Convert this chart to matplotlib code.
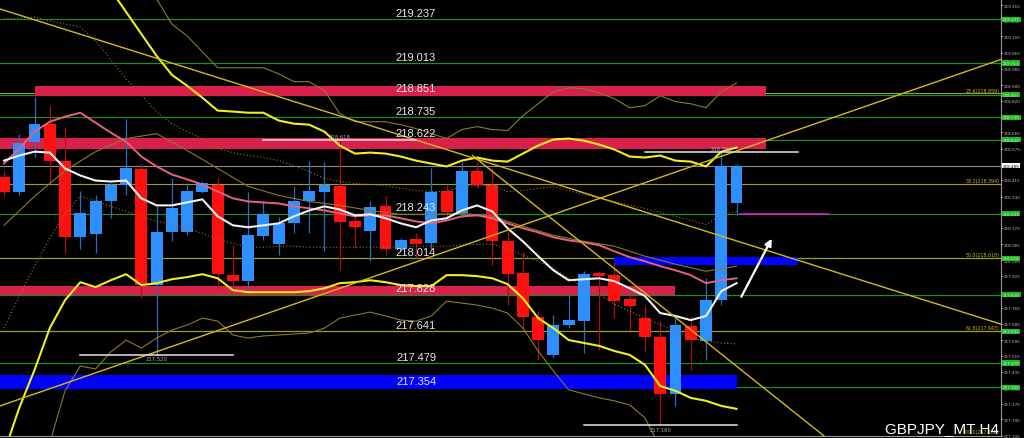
import numpy as np
import matplotlib
matplotlib.use("Agg")
import matplotlib.pyplot as plt

# ---- candles (GBPJPY H4) ----
opens = [218.428, 218.356, 218.611, 218.703, 218.514, 218.122, 218.137, 218.305, 218.387, 218.469,
         217.877, 218.147, 218.147, 218.356, 218.387, 217.928, 217.897, 218.127, 218.086, 218.193,
         218.305, 218.356, 218.382, 218.203, 218.152, 218.280, 218.060, 218.111, 218.091, 218.361,
         218.244, 218.463, 218.387, 218.101, 217.938, 217.713, 217.520, 217.673, 217.693, 217.938,
         217.928, 217.805, 217.708, 217.611, 217.321, 217.668, 217.591, 217.800, 218.295]
highs = [218.463, 218.652, 218.841, 218.795, 218.688, 218.361, 218.336, 218.397, 218.729, 218.499,
         218.280, 218.423, 218.402, 218.412, 218.423, 218.081, 218.356, 218.305, 218.224, 218.382,
         218.514, 218.509, 218.618, 218.234, 218.305, 218.331, 218.117, 218.142, 218.474, 218.387,
         218.509, 218.509, 218.474, 218.152, 218.045, 217.744, 217.724, 217.826, 217.948, 217.948,
         217.989, 217.826, 217.770, 217.693, 217.708, 217.719, 217.912, 218.556, 218.499]
lows = [218.331, 218.336, 218.535, 218.407, 218.040, 218.060, 218.040, 218.219, 218.336, 217.810,
        217.520, 218.101, 218.132, 218.346, 217.861, 217.846, 217.846, 218.106, 218.030, 218.142,
        218.142, 218.050, 217.953, 218.065, 217.999, 218.030, 218.050, 218.014, 218.055, 218.219,
        218.219, 218.372, 217.979, 217.775, 217.657, 217.494, 217.504, 217.657, 217.530, 217.545,
        217.708, 217.647, 217.540, 217.160, 217.259, 217.443, 217.494, 217.775, 218.234]
closes = [218.356, 218.606, 218.703, 218.514, 218.122, 218.244, 218.305, 218.387, 218.474, 217.877,
          218.147, 218.270, 218.361, 218.397, 217.933, 217.897, 218.132, 218.239, 218.193, 218.305,
          218.361, 218.387, 218.198, 218.173, 218.275, 218.060, 218.106, 218.086, 218.356, 218.249,
          218.463, 218.387, 218.101, 217.933, 217.713, 217.596, 217.673, 217.698, 217.933, 217.923,
          217.795, 217.770, 217.611, 217.321, 217.673, 217.596, 217.800, 218.489, 218.489]

# ---- indicator lines ----
ma_white = [218.514, 218.540, 218.560, 218.555, 218.474, 218.438, 218.412, 218.407, 218.412, 218.321,
            218.285, 218.285, 218.300, 218.316, 218.229, 218.183, 218.173, 218.183, 218.193, 218.229,
            218.259, 218.280, 218.264, 218.234, 218.239, 218.219, 218.193, 218.173, 218.208, 218.219,
            218.259, 218.285, 218.254, 218.168, 218.101, 218.025, 217.953, 217.902, 217.907, 217.912,
            217.897, 217.861, 217.821, 217.734, 217.719, 217.698, 217.719, 217.846, 217.887]
ma_pink = [218.499, 218.576, 218.662, 218.713, 218.739, 218.759, 218.708, 218.657, 218.611, 218.535,
           218.484, 218.443, 218.418, 218.392, 218.356, 218.321, 218.305, 218.300, 218.295, 218.280,
           218.270, 218.259, 218.244, 218.229, 218.234, 218.234, 218.219, 218.203, 218.193, 218.208,
           218.229, 218.234, 218.219, 218.193, 218.168, 218.147, 218.122, 218.106, 218.096, 218.081,
           218.050, 218.020, 217.999, 217.974, 217.953, 217.928, 217.887, 217.902, 217.912]
band_up_start = 7
band_up = [219.387, 219.275, 219.162, 219.050, 218.953, 218.897, 218.836, 218.770, 218.765, 218.759,
           218.759, 218.719, 218.703, 218.698, 218.662, 218.591, 218.550, 218.555, 218.550, 218.535,
           218.514, 218.499, 218.484, 218.514, 218.530, 218.514, 218.509, 218.550, 218.591, 218.622,
           218.627, 218.616, 218.596, 218.571, 218.535, 218.530, 218.540, 218.514, 218.509, 218.484,
           218.560, 218.581]
band_dn = [217.020, 217.249, 217.443, 217.657, 217.800, 217.892, 217.867, 217.902, 217.933, 217.877,
           217.887, 217.907, 217.918, 217.933, 217.912, 217.851, 217.841, 217.841, 217.841, 217.841,
           217.846, 217.861, 217.887, 217.892, 217.902, 217.892, 217.877, 217.872, 217.872, 217.928,
           217.928, 217.923, 217.912, 217.882, 217.810, 217.708, 217.657, 217.596, 217.581, 217.566,
           217.540, 217.520, 217.469, 217.361, 217.336, 217.300, 217.285, 217.259, 217.244]
outer_up_start = 9
outer_up = [219.469, 219.341, 219.213, 219.152, 219.071, 218.989, 218.989, 218.989, 218.989, 218.958,
            218.918, 218.918, 218.872, 218.754, 218.713, 218.713, 218.713, 218.698, 218.678, 218.652,
            218.627, 218.673, 218.688, 218.673, 218.668, 218.744, 218.805, 218.866, 218.887, 218.882,
            218.861, 218.831, 218.785, 218.795, 218.846, 218.816, 218.805, 218.785, 218.866, 218.912]
outer_dn_start = 3
outer_dn = [217.071, 217.336, 217.463, 217.448, 217.535, 217.596, 217.555, 217.606, 217.647, 217.673,
            217.708, 217.693, 217.622, 217.606, 217.617, 217.622, 217.627, 217.632, 217.657, 217.708,
            217.724, 217.739, 217.719, 217.698, 217.693, 217.719, 217.795, 217.785, 217.775, 217.759,
            217.734, 217.657, 217.540, 217.438, 217.341, 217.321, 217.300, 217.285, 217.264, 217.198,
            217.045]
dot_up = [219.239, 219.244, 219.249, 219.229, 219.213, 219.198, 219.127, 219.030, 218.933, 218.851,
          218.765, 218.703, 218.662, 218.627, 218.576, 218.555, 218.540, 218.530, 218.514, 218.489,
          218.458, 218.423, 218.407, 218.397, 218.392, 218.387, 218.372, 218.361, 218.356, 218.356,
          218.382, 218.387, 218.387, 218.356, 218.361, 218.372, 218.382, 218.361, 218.341, 218.321,
          218.305, 218.285, 218.270, 218.249, 218.229, 218.208, 218.188, 218.234, 218.254]
dot_dn = [217.657, 217.821, 217.974, 218.117, 218.244, 218.331, 218.310, 218.280, 218.254, 218.229,
          218.203, 218.188, 218.168, 218.142, 218.111, 218.091, 218.071, 218.071, 218.076, 218.076,
          218.071, 218.071, 218.071, 218.071, 218.071, 218.071, 218.071, 218.076, 218.076, 218.076,
          218.081, 218.086, 218.086, 218.065, 218.030, 217.999, 217.963, 217.912, 217.867, 217.831,
          217.780, 217.744, 217.708, 217.673, 217.642, 217.606, 217.591, 217.581, 217.576]
mid_idx = list(range(0, 49, 2))
mid_olive = [218.183, 218.331, 218.463, 218.560, 218.627, 218.652, 218.566, 218.474, 218.382, 218.336,
             218.305, 218.285, 218.259, 218.239, 218.239, 218.244, 218.229, 218.178, 218.132, 218.101,
             218.076, 218.025, 217.984, 217.948, 217.974]

# ---- horizontal levels, zones, fibs ----
levels = [219.237, 219.013, 218.851, 218.735, 218.622, 218.243, 218.014, 217.828, 217.641, 217.479, 217.354]
zone_lo = [218.846, 218.576, 217.826, 217.346, 217.979]
zone_hi = [218.897, 218.632, 217.872, 217.418, 218.020]
zone_x0 = [2.0, -1.0, -1.0, -1.0, 40.0]
zone_x1 = [49.9, 49.9, 44.0, 48.0, 52.0]
zone_col = ["#d8204a", "#d8204a", "#d8204a", "#0000ff", "#0000ff"]
fib_vals = [218.859, 218.394, 218.018, 217.643]
fib_text = ["23.6(218.859)", "38.2(218.394)", "50.0(218.018)", "61.8(217.643)"]
bid = 218.489
marks_i = [22, 47, 10, 43]
marks_p = [218.618, 218.556, 217.520, 217.160]
marks_hi = [True, True, False, False]
# trend lines: (x0, p0, x1, p1) in bar index / price
trends = [(-0.26, 219.290, 65.3, 217.678),
          (30.7, 218.540, 53.8, 217.101),
          (-0.26, 217.259, 65.3, 219.031)]
axis_ticks = [219.310, 219.230, 219.150, 219.065, 218.985, 218.900, 218.820, 218.740, 218.660, 218.575,
              218.495, 218.415, 218.330, 218.250, 218.170, 218.085, 218.005, 217.925, 217.840, 217.760,
              217.680, 217.595, 217.515, 217.435, 217.350, 217.270, 217.190, 217.105]

fig = plt.figure(figsize=(10.24, 4.39), dpi=100, facecolor="black")
ax = fig.add_axes([0, 2 / 439, 1001 / 1024, 437 / 439])
ax.set_facecolor("black")
ax.set_xlim(-0.262, 65.33)
ax.set_ylim(217.111, 219.341)

for lv in levels:
    ax.axhline(lv, color="#1e8c1e", lw=0.9, zorder=1)
ax.axhline(bid, color="#8c8c8c", lw=0.8, zorder=1)
for fv in fib_vals:
    ax.axhline(fv, color="#a89a20", lw=0.8, zorder=1.5)

for lo, hi, x0, x1, c in zip(zone_lo, zone_hi, zone_x0, zone_x1, zone_col):
    ax.fill_between([x0, x1], lo, hi, color=c, lw=0, zorder=2)

# candles
x = np.arange(len(opens))
for i in x:
    o, h, l, c = opens[i], highs[i], lows[i], closes[i]
    col = "#2e90ff" if c >= o else "#ff1010"
    wcol = "#2a6cc0" if c >= o else "#b01010"
    ax.vlines(i, l, h, color=wcol, lw=0.9, zorder=3)
    ax.bar(i, max(abs(c - o), 0.004), bottom=min(o, c), width=0.78, color=col, lw=0, zorder=3.2)

# indicators
olive = "#8c7a28"
ax.plot(range(outer_up_start, outer_up_start + len(outer_up)), outer_up, color=olive, lw=0.8, zorder=4)
ax.plot(range(outer_dn_start, outer_dn_start + len(outer_dn)), outer_dn, color=olive, lw=0.8, zorder=4)
ax.plot(x, dot_up, color=olive, lw=0.8, ls=(0, (1, 2)), zorder=4)
ax.plot(x, dot_dn, color=olive, lw=0.8, ls=(0, (1, 2)), zorder=4)
ax.plot(mid_idx, mid_olive, color=olive, lw=0.8, zorder=4)
ax.plot(range(band_up_start, band_up_start + len(band_up)), band_up, color="#f0ee20", lw=1.5, zorder=4.2)
ax.plot(x, band_dn, color="#f0ee20", lw=1.5, zorder=4.2)
ax.plot(x, ma_pink, color="#e8607c", lw=1.4, zorder=4.3)
ax.plot(x, ma_white, color="#f2f2f2", lw=1.5, zorder=4.4)

for x0, p0, x1, p1 in trends:
    ax.plot([x0, x1], [p0, p1], color="#d7b915", lw=1.0, zorder=5)

# high / low marks
for i, p, up in zip(marks_i, marks_p, marks_hi):
    ax.plot([i - 5, i + 5], [p, p], color="#e6e6e6", lw=1.1, zorder=5)
    ax.annotate(f"{p:.3f}", (i, p), xytext=(0, 1 if up else -1), textcoords="offset points",
                ha="center", va="bottom" if up else "top", fontsize=3.8, color="#b0b0b0", zorder=6)

ax.plot([48.2, 54.0], [218.243, 218.243], color="#e020e0", lw=1.1, zorder=5)
ax.annotate("", xy=(50.39, 218.127), xytext=(48.23, 217.805),
            arrowprops=dict(arrowstyle="-|>", color="white", lw=1.6, mutation_scale=10), zorder=6)

for lv in levels:
    ax.annotate(f"{lv:.3f}", (27.0, lv), xytext=(0, 1), textcoords="offset points",
                ha="center", va="bottom", fontsize=8, color="#e8e8e8",
                family="Liberation Sans", zorder=7)

for fv, ft in zip(fib_vals, fib_text):
    ax.annotate(ft, (1.0, fv), xycoords=("axes fraction", "data"), xytext=(-1, 0.5),
                textcoords="offset points", ha="right", va="bottom", fontsize=3.4,
                color="#c8b428", zorder=7)
ax.annotate("100.0(217.160)", (1.0, 217.111), xycoords=("axes fraction", "data"), xytext=(-1, 0.5),
            textcoords="offset points", ha="right", va="bottom", fontsize=3.4, color="#c8b428", zorder=7)

ax.text(0.998, 0.009, "GBPJPY_MT H4", transform=ax.transAxes, ha="right", va="baseline",
        fontsize=11, color="white", family="Liberation Sans", zorder=8)

# right price axis
ax.yaxis.tick_right()
ax.set_yticks(axis_ticks)
ax.set_yticklabels([f"{t:.3f}" for t in axis_ticks])
ax.tick_params(axis="y", colors="#c0c0c0", labelsize=3.0, length=1.5, pad=0.8, width=0.5)
ax.set_xticks([])
for s in ("left", "top"):
    ax.spines[s].set_visible(False)
ax.spines["right"].set_color("#9a9a9a")
ax.spines["bottom"].set_color("#9a9a9a")

for lv in levels:
    ax.annotate(f"{lv:.3f}", (1.0, lv), xycoords=("axes fraction", "data"), xytext=(1.5, 0),
                textcoords="offset points", ha="left", va="center", fontsize=3.0, color="#b8ffb8",
                bbox=dict(boxstyle="square,pad=0.15", fc="#22b822", ec="none"),
                annotation_clip=False, zorder=9)
ax.annotate(f"{bid:.3f}", (1.0, bid), xycoords=("axes fraction", "data"), xytext=(1.5, 0),
            textcoords="offset points", ha="left", va="center", fontsize=3.0, color="black",
            bbox=dict(boxstyle="square,pad=0.15", fc="white", ec="none"),
            annotation_clip=False, zorder=9)

fig.savefig("out.png", dpi=100, facecolor="black")
